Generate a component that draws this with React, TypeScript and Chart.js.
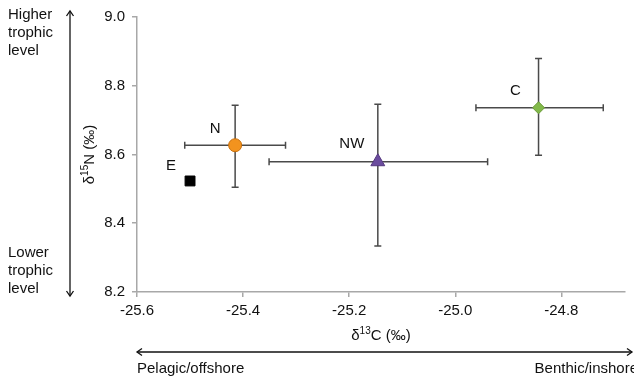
import React, { useEffect, useRef } from 'react';
import { Chart, registerables } from 'chart.js';

Chart.register(...registerables);

// ---- data ----
const sites = ['N', 'E', 'NW', 'C'];
const d13C = [-25.415, -25.5, -25.146, -24.843];
const d15N = [8.627, 8.523, 8.579, 8.736];
const d13CErrLow = [0.095, 0, 0.205, 0.118];
const d13CErrHigh = [0.095, 0, 0.207, 0.122];
const d15NErrLow = [0.122, 0, 0.245, 0.138];
const d15NErrHigh = [0.116, 0, 0.167, 0.143];
const xTicks = [-25.6, -25.4, -25.2, -25.0, -24.8];
const yTicks = [8.2, 8.4, 8.6, 8.8, 9.0];
const xTitle = [{ t: 'δ' }, { t: '13', sup: true }, { t: 'C (‰)' }];
const yTitle = [{ t: 'δ' }, { t: '15', sup: true }, { t: 'N (‰)' }];
const upperNote = ['Higher', 'trophic', 'level'];
const lowerNote = ['Lower', 'trophic', 'level'];
const leftNote = 'Pelagic/offshore';
const rightNote = 'Benthic/inshore';

const FONT = "'Liberation Sans', Arial, sans-serif";
const INK = '#111111';

const markerStyle: Record<string, any> = {
  N: { style: 'circle', r: 6.5, bg: '#F2931E', border: '#C8700E' },
  E: { style: 'rect', r: 7, bg: '#000000', border: '#000000' },
  NW: { style: 'triangle', r: 8, bg: '#6B4C9E', border: '#55387F' },
  C: { style: 'rectRot', r: 6, bg: '#82B94A', border: '#6A9B38' },
};
const labelOffset: Record<string, [number, number]> = {
  N: [-20, -16],
  E: [-19, -15],
  NW: [-26, -18],
  C: [-23, -17],
};

function drawRich(ctx: CanvasRenderingContext2D, parts: { t: string; sup?: boolean }[], cx: number, cy: number, size: number) {
  const big = `${size}px ${FONT}`;
  const small = `${Math.round(size * 0.68)}px ${FONT}`;
  let total = 0;
  const widths = parts.map((p) => {
    ctx.font = p.sup ? small : big;
    const w = ctx.measureText(p.t).width;
    total += w;
    return w;
  });
  let x = cx - total / 2;
  ctx.textAlign = 'left';
  ctx.textBaseline = 'alphabetic';
  parts.forEach((p, i) => {
    ctx.font = p.sup ? small : big;
    ctx.fillText(p.t, x, p.sup ? cy - size * 0.38 : cy);
    x += widths[i];
  });
}

const errorBars = {
  id: 'errorBars',
  beforeDatasetsDraw(chart: any) {
    const { ctx, scales } = chart;
    const x = scales.x;
    const y = scales.y;
    ctx.save();
    ctx.strokeStyle = '#4A4A4A';
    ctx.lineWidth = 1.5;
    const cap = 3.5;
    d13C.forEach((cxv, i) => {
      const px = x.getPixelForValue(cxv);
      const py = y.getPixelForValue(d15N[i]);
      if (d13CErrLow[i] || d13CErrHigh[i]) {
        const x0 = x.getPixelForValue(cxv - d13CErrLow[i]);
        const x1 = x.getPixelForValue(cxv + d13CErrHigh[i]);
        ctx.beginPath();
        ctx.moveTo(x0, py); ctx.lineTo(x1, py);
        ctx.moveTo(x0, py - cap); ctx.lineTo(x0, py + cap);
        ctx.moveTo(x1, py - cap); ctx.lineTo(x1, py + cap);
        ctx.stroke();
      }
      if (d15NErrLow[i] || d15NErrHigh[i]) {
        const y0 = y.getPixelForValue(d15N[i] - d15NErrLow[i]);
        const y1 = y.getPixelForValue(d15N[i] + d15NErrHigh[i]);
        ctx.beginPath();
        ctx.moveTo(px, y0); ctx.lineTo(px, y1);
        ctx.moveTo(px - cap, y0); ctx.lineTo(px + cap, y0);
        ctx.moveTo(px - cap, y1); ctx.lineTo(px + cap, y1);
        ctx.stroke();
      }
    });
    ctx.restore();
  },
};

function arrowHead(ctx: CanvasRenderingContext2D, x: number, y: number, dx: number, dy: number) {
  const len = 5;
  const half = 3.5;
  const bx = x - dx * len;
  const by = y - dy * len;
  ctx.beginPath();
  ctx.moveTo(bx + -dy * half, by + dx * half);
  ctx.lineTo(x, y);
  ctx.lineTo(bx - -dy * half, by - dx * half);
  ctx.stroke();
}

const annotations = {
  id: 'annotations',
  afterDraw(chart: any) {
    const { ctx, chartArea, scales } = chart;
    ctx.save();
    ctx.fillStyle = INK;
    // point labels
    ctx.font = `15px ${FONT}`;
    ctx.textAlign = 'center';
    ctx.textBaseline = 'middle';
    sites.forEach((s, i) => {
      const px = scales.x.getPixelForValue(d13C[i]);
      const py = scales.y.getPixelForValue(d15N[i]);
      const [ox, oy] = labelOffset[s];
      ctx.fillText(s, px + ox, py + oy);
    });
    // axis titles
    drawRich(ctx, xTitle, (chartArea.left + chartArea.right) / 2, 340, 15);
    ctx.save();
    ctx.translate(94, (chartArea.top + chartArea.bottom) / 2);
    ctx.rotate(-Math.PI / 2);
    drawRich(ctx, yTitle, 0, 0, 15);
    ctx.restore();
    // side notes
    ctx.font = `15px ${FONT}`;
    ctx.textAlign = 'left';
    ctx.textBaseline = 'middle';
    upperNote.forEach((t, i) => ctx.fillText(t, 8, 15 + i * 18));
    lowerNote.forEach((t, i) => ctx.fillText(t, 8, 253 + i * 18));
    ctx.fillText(leftNote, 137, 369);
    ctx.textAlign = 'right';
    ctx.fillText(rightNote, 638, 369);
    // arrows
    ctx.strokeStyle = INK;
    ctx.lineWidth = 1.3;
    const ax = 70;
    const top = 11;
    const bot = 296;
    ctx.beginPath();
    ctx.moveTo(ax, top); ctx.lineTo(ax, bot);
    ctx.stroke();
    arrowHead(ctx, ax, top, 0, -1);
    arrowHead(ctx, ax, bot, 0, 1);
    const hy = 352;
    const hl = 137;
    const hr = 632;
    ctx.beginPath();
    ctx.moveTo(hl, hy); ctx.lineTo(hr, hy);
    ctx.stroke();
    arrowHead(ctx, hl, hy, -1, 0);
    arrowHead(ctx, hr, hy, 1, 0);
    ctx.restore();
  },
};

export default function App() {
  const ref = useRef<HTMLCanvasElement>(null);
  useEffect(() => {
    document.body.style.margin = '0';
    Chart.defaults.font.family = FONT;
    const canvas = ref.current!;
    const styles = sites.map((s) => markerStyle[s]);
    const chart = new Chart(canvas, {
      type: 'scatter',
      data: {
        datasets: [
          {
            label: 'Sites',
            data: sites.map((s, i) => ({ x: d13C[i], y: d15N[i] })),
            pointStyle: styles.map((m) => m.style),
            pointRadius: styles.map((m) => m.r),
            pointBackgroundColor: styles.map((m) => m.bg),
            pointBorderColor: styles.map((m) => m.border),
            pointBorderWidth: 1,
          },
        ],
      },
      options: {
        responsive: false,
        animation: false,
        layout: { padding: { left: 0, right: 4, top: 17, bottom: 0 } },
        plugins: {
          legend: { display: false },
          tooltip: { enabled: false },
        },
        scales: {
          x: {
            type: 'linear',
            min: -25.6,
            max: -24.68,
            afterBuildTicks: (s: any) => {
              s.ticks = xTicks.map((v) => ({ value: v }));
            },
            afterFit: (s: any) => {
              s.height = 378 - 292;
            },
            border: { display: true, color: '#A8A8A8', width: 1.5 },
            grid: { display: true, drawOnChartArea: false, drawTicks: true, tickLength: 5, color: '#A8A8A8', lineWidth: 1.5 },
            ticks: {
              color: INK,
              font: { size: 15 },
              padding: 5,
              maxRotation: 0,
              callback: (v: any) => Number(v).toFixed(1),
            },
          },
          y: {
            type: 'linear',
            min: 8.2,
            max: 9.0,
            afterBuildTicks: (s: any) => {
              s.ticks = yTicks.map((v) => ({ value: v }));
            },
            afterFit: (s: any) => {
              s.width = 137;
            },
            border: { display: true, color: '#A8A8A8', width: 1.5 },
            grid: { display: true, drawOnChartArea: false, drawTicks: true, tickLength: 5, color: '#A8A8A8', lineWidth: 1.5 },
            ticks: {
              color: INK,
              font: { size: 15 },
              padding: 7,
              callback: (v: any) => Number(v).toFixed(1),
            },
          },
        },
      },
      plugins: [errorBars, annotations],
    });
    return () => chart.destroy();
  }, []);
  return (
    <div style={{ width: 634, height: 378, overflow: 'hidden', background: '#fff' }}>
      <canvas ref={ref} width={634} height={378} style={{ display: 'block' }} />
    </div>
  );
}
